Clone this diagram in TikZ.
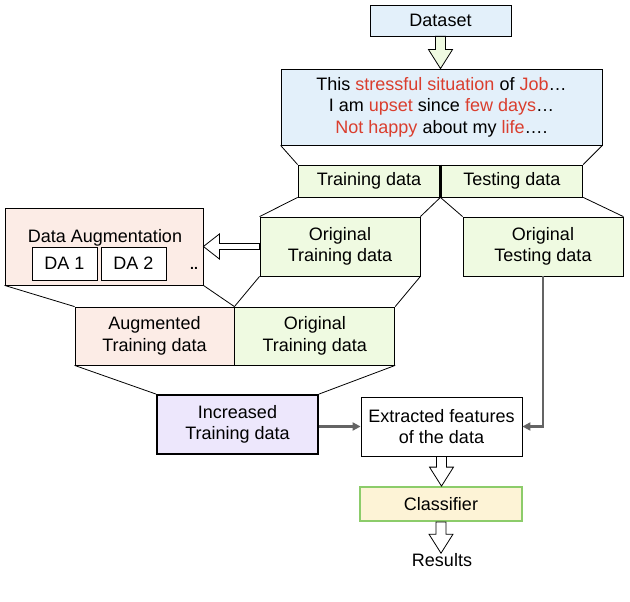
\documentclass[tikz,border=0pt]{standalone}
\usepackage{fontspec}
\setmainfont{Liberation Sans}
\usetikzlibrary{positioning,calc,arrows.meta}

\definecolor{dsblue}{RGB}{227,240,250}
\definecolor{dsgreen}{RGB}{239,250,225}
\definecolor{dspink}{RGB}{252,236,230}
\definecolor{dspurple}{RGB}{237,231,252}
\definecolor{dsyellow}{RGB}{253,243,214}
\definecolor{dsborder}{RGB}{140,204,106}
\definecolor{dsred}{RGB}{218,62,46}
\definecolor{dsgray}{RGB}{100,100,100}

\newcommand\hl[1]{\textcolor{dsred}{#1}}
% hollow arrow pointing down, from node anchor #1 to node anchor #2
\newcommand\fatdown[3]{%
 \draw[line width=0.8pt,fill=#3] let \p1=(#1), \p2=(#2) in
  (\x1-5pt,\y1) -- (\x1-5pt,\y2+19pt) -- (\x1-12pt,\y2+19pt) -- (\x1,\y2)
  -- (\x1+12pt,\y2+19pt) -- (\x1+5pt,\y2+19pt) -- (\x1+5pt,\y1) -- cycle;}

\begin{document}
\begin{tikzpicture}[x=1pt,y=-1pt,
  box/.style={draw,line width=0.8pt,inner sep=0pt,align=center,
    font=\fontsize{18}{21.5}\selectfont},
  txt/.style={inner sep=0pt,align=center,font=\fontsize{18}{21.5}\selectfont},
  funnel/.style={line width=0.8pt},
  link/.style={draw=dsgray,line width=2.2pt,-{Triangle[length=8pt,width=8pt]}}]
 \useasboundingbox (0,0) rectangle (630,602);

 \node[box,fill=dsblue,minimum width=141,minimum height=31] (dataset) at (440.5,20.5) {Dataset};
 \node[box,fill=dsblue,minimum width=321,minimum height=76] (text) at (441.5,107)
  {This \hl{stressful situation} of \hl{Job}…\\
   I am \hl{upset} since \hl{few days}…\\
   \hl{Not happy} about my \hl{life}….};
 \node[box,fill=dsgreen,minimum width=142,minimum height=32] (train) at (369,181) {Training data};
 \node[box,fill=dsgreen,minimum width=142,minimum height=32,right=0pt of train] (test) {Testing data};
 \draw[line width=2.5pt] (train.north east) -- (train.south east);

 \node[box,fill=dsgreen,minimum width=160,minimum height=59] (origtrain) at (340,246.5) {Original\\Training data};
 \node[box,fill=dsgreen,minimum width=160,minimum height=59] (origtest) at (543,246.5) {Original\\Testing data};

 \node[box,fill=dspink,minimum width=198,minimum height=77] (augbox) at (104,246.5) {};
 \node[txt] (augtitle) at (105,238) {Data Augmentation};
 \node[box,fill=white,minimum width=65,minimum height=33] (da1) at (64.5,263.5) {DA 1};
 \node[box,fill=white,minimum width=65,minimum height=33] (da2) at (133.5,263.5) {DA 2};
 \node[txt,font=\bfseries\fontsize{14}{14}\selectfont] (dots) at (194,268) {..};

 \node[box,fill=dspink,minimum width=159,minimum height=58] (aug) at (154.5,336) {Augmented\\Training data};
 \node[box,fill=dsgreen,minimum width=160,minimum height=58,right=0pt of aug] (origtrain2) {Original\\Training data};

 \node[box,fill=dspurple,line width=1.8pt,minimum width=161,minimum height=59] (incr) at (237.5,424.5) {Increased\\Training data};
 \node[box,fill=white,minimum width=161,minimum height=59] (extr) at (441.5,426.5) {Extracted features\\of the data};
 \node[box,fill=dsyellow,draw=dsborder,line width=1.8pt,minimum width=162,minimum height=34] (clf) at (441,504) {Classifier};
 \node[txt] (results) at (442,560) {Results};

 % funnels
 \draw[funnel] (text.south west) -- (train.north west);
 \draw[funnel] (text.south east) -- (test.north east);
 \draw[funnel] (train.south west) -- (origtrain.north west);
 \draw[funnel] (train.south east) -- (origtrain.north east);
 \draw[funnel] (train.south east) -- (origtest.north west);
 \draw[funnel] (test.south east) -- (origtest.north east);
 \draw[funnel] (augbox.south west) -- (aug.north west);
 \draw[funnel] (augbox.south east) -- (aug.north east);
 \draw[funnel] (origtrain.south west) -- (origtrain2.north west);
 \draw[funnel] (origtrain.south east) -- (origtrain2.north east);
 \draw[funnel] (aug.south west) -- (incr.north west);
 \draw[funnel] (origtrain2.south east) -- (incr.north east);

 % hollow arrows
 \fatdown{dataset.south}{text.north}{dsgreen}
 \fatdown{extr.south}{clf.north}{white}
 \fatdown{clf.south}{results.north}{white}
 \draw[line width=0.8pt,fill=white] let \p1=(origtrain.west), \p2=(augbox.east) in
  (\x1,\y1+3pt) -- (\x2+16pt,\y1+3pt) -- (\x2+16pt,\y1+12.5pt) -- (\x2,\y1)
  -- (\x2+16pt,\y1-12.5pt) -- (\x2+16pt,\y1-3pt) -- (\x1,\y1-3pt) -- cycle;

 % grey links
 \draw[link] (incr.east |- extr.west) -- (extr.west);
 \draw[link] (origtest.south) |- (extr.east);
\end{tikzpicture}
\end{document}
